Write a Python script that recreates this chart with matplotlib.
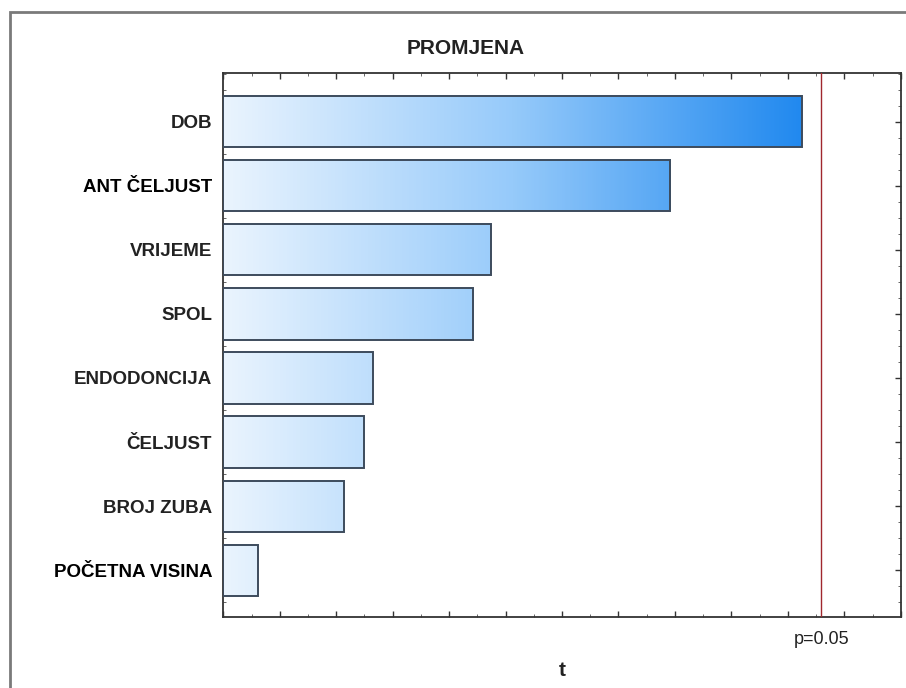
import numpy as np
import matplotlib
matplotlib.use('Agg')
import matplotlib.pyplot as plt
from matplotlib.colors import LinearSegmentedColormap
from matplotlib.patches import Rectangle
from matplotlib.ticker import MultipleLocator, NullFormatter

plt.rcParams['font.family'] = ['Liberation Sans', 'DejaVu Sans']

# effects, top to bottom
labels = ['DOB', 'ANT ČELJUST', 'VRIJEME', 'SPOL', 'ENDODONCIJA',
          'ČELJUST', 'BROJ ZUBA', 'POČETNA VISINA']
t_values = [2.049, 1.584, 0.948, 0.886, 0.530, 0.500, 0.429, 0.123]
t_crit = 2.118
title = 'PROMJENA'

fig = plt.figure(figsize=(9.06, 6.88), dpi=100)
fig.subplots_adjust(left=0.2465, right=0.9942, bottom=0.1032, top=0.8935)
ax = fig.add_subplot(111)

cmap = LinearSegmentedColormap.from_list('blu', ['#eaf4fe', '#96cafa', '#2189ef'])
ypos = np.arange(len(labels))
bar_h = 0.8

# gradient fill, coloured by position along t
for y, v in zip(ypos, t_values):
    grad = np.linspace(0, v, 256).reshape(1, -1)
    ax.imshow(grad, extent=[0, v, y + bar_h / 2, y - bar_h / 2], cmap=cmap,
              vmin=0, vmax=2.05, aspect='auto', interpolation='bilinear', zorder=2)
ax.barh(ypos, t_values, height=bar_h, facecolor='none', edgecolor='#3d4b5c',
        linewidth=1.4, zorder=3)

ax.axvline(t_crit, color='#a0282e', linewidth=1.0, zorder=4)

ax.set_xlim(0, 2.4)
ax.set_ylim(7.73, -0.755)
ax.set_yticks(ypos)
ax.set_yticklabels(labels, fontsize=13.5, fontweight='bold', color='#222222')
for lab in ax.get_yticklabels():
    if lab.get_text() in ('ANT ČELJUST', 'POČETNA VISINA'):
        lab.set_color('black')
ax.xaxis.set_major_locator(MultipleLocator(0.2))
ax.xaxis.set_minor_locator(MultipleLocator(0.1))
ax.yaxis.set_minor_locator(MultipleLocator(0.25))
ax.xaxis.set_major_formatter(NullFormatter())
ax.tick_params('both', which='major', direction='in', length=4, width=1.0,
               top=True, right=True, color='#333333')
ax.tick_params('both', which='minor', direction='in', length=2, width=0.7,
               top=True, right=True, color='#666666')
ax.tick_params('y', which='major', pad=8)
for sp in ax.spines.values():
    sp.set_linewidth(1.3)
    sp.set_color('#333333')

ax.text(t_crit, -0.026, 'p=0.05', transform=ax.get_xaxis_transform(),
        ha='center', va='top', fontsize=13, color='#222222')
ax.set_xlabel('t', fontsize=15, fontweight='bold', labelpad=28, color='#222222')

fig.text(466 / 906, 1 - 48 / 688, title, ha='center', va='center',
         fontsize=15, fontweight='bold', color='#222222')

# outer frame of the original screenshot
fig.patches.append(Rectangle((10 / 906, -0.2), 1.2, 1.2 - 12 / 688,
                             transform=fig.transFigure, fill=False,
                             edgecolor='#7a7a7a', linewidth=2.0))

fig.savefig('out.png', dpi=100)
